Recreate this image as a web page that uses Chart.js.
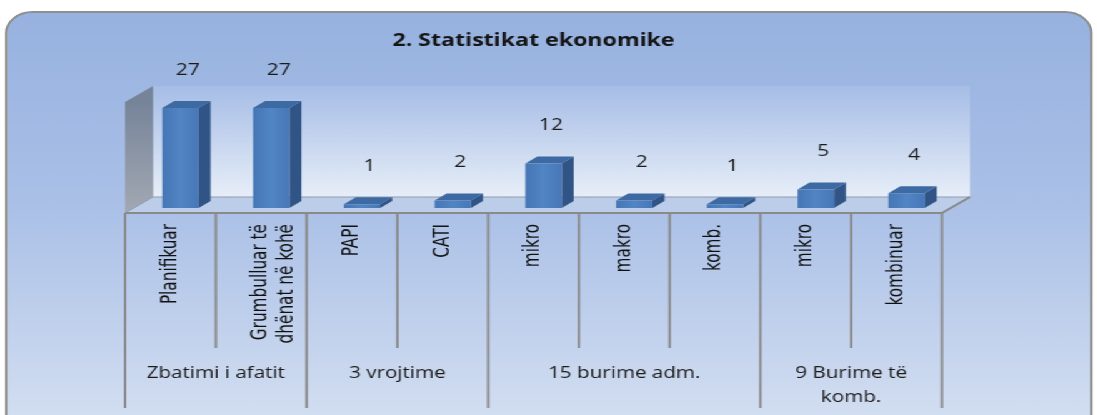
<!DOCTYPE html>
<html>
<head>
<meta charset="utf-8">
<script src="https://cdn.jsdelivr.net/npm/chart.js@4/dist/chart.umd.min.js"></script>
<style>
  html, body { margin: 0; padding: 0; background: #fff; overflow: hidden; }
  #wrap {
    position: absolute; left: 0; top: 0; width: 878px; height: 415px;
    transform: scale(1.25, 1); transform-origin: 0 0;
  }
  #frame {
    position: absolute; left: 4px; top: 11px; width: 870px; height: 430px;
    box-sizing: border-box; border: 2px solid #8f8f8f; border-radius: 22px;
    background: linear-gradient(to bottom, #97b2e0 0%, #aac0e7 45%, #d6e1f2 100%);
  }
  #box { position: absolute; left: 0; top: 0; width: 878px; height: 415px; }
</style>
</head>
<body>
<div id="wrap">
  <div id="frame"></div>
  <div id="box"><canvas id="grafik"></canvas></div>
</div>
<script>
const kategorite = ['Planifikuar', ['Grumbulluar të', 'dhënat në kohë'], 'PAPI', 'CATI', 'mikro', 'makro', 'komb.', 'mikro', 'kombinuar'];
const vlerat = [27, 27, 1, 2, 12, 2, 1, 5, 4];
const grupet = ['Zbatimi i afatit', '3 vrojtime', '15 burime adm.', ['9 Burime të', 'komb.']];
const grupMadhesia = [2, 2, 3, 2];

// pseudo 3D offsets (in canvas px)
const thellesia = { x: 22.4, y: -16 };
const futja = { x: 8, y: -5 };
const thellesiaBar = { x: 9.6, y: -7 };

function poly(ctx, pts, fill, stroke) {
  ctx.beginPath();
  ctx.moveTo(pts[0][0], pts[0][1]);
  for (let i = 1; i < pts.length; i++) ctx.lineTo(pts[i][0], pts[i][1]);
  ctx.closePath();
  ctx.fillStyle = fill;
  ctx.fill();
  if (stroke) { ctx.strokeStyle = stroke; ctx.lineWidth = 1; ctx.stroke(); }
}

const muret = {
  id: 'muret',
  beforeDatasetsDraw(chart) {
    const { ctx, chartArea: a } = chart;
    const dx = thellesia.x, dy = thellesia.y;
    ctx.save();
    // back wall
    let g = ctx.createLinearGradient(0, a.top + dy, 0, a.bottom + dy);
    g.addColorStop(0, '#a6bde6');
    g.addColorStop(1, '#e7eef8');
    ctx.fillStyle = g;
    ctx.fillRect(a.left + dx, a.top + dy, a.right - a.left, a.bottom - a.top);
    // left wall
    g = ctx.createLinearGradient(0, a.top, 0, a.bottom);
    g.addColorStop(0, '#76849a');
    g.addColorStop(1, '#a3a9b3');
    poly(ctx, [[a.left, a.bottom], [a.left, a.top], [a.left + dx, a.top + dy], [a.left + dx, a.bottom + dy]], g);
    // floor
    poly(ctx, [[a.left, a.bottom], [a.right, a.bottom], [a.right + dx, a.bottom + dy], [a.left + dx, a.bottom + dy]], '#bccde9', '#8f9bb0');
    ctx.restore();
  },
  afterDatasetsDraw(chart) {
    const { ctx } = chart;
    const meta = chart.getDatasetMeta(0);
    ctx.save();
    meta.data.forEach((bar, i) => {
      const p = bar.getProps(['x', 'y', 'base', 'width'], true);
      const x0 = p.x - p.width / 2 + futja.x;
      const x1 = p.x + p.width / 2 + futja.x;
      const yt = p.y + futja.y;
      const yb = p.base + futja.y;
      const bx = thellesiaBar.x, by = thellesiaBar.y;
      // side
      poly(ctx, [[x1, yb], [x1, yt], [x1 + bx, yt + by], [x1 + bx, yb + by]], '#2f5485');
      // top
      poly(ctx, [[x0, yt], [x1, yt], [x1 + bx, yt + by], [x0 + bx, yt + by]], '#3d6aa3');
      // front
      const g = ctx.createLinearGradient(x0, 0, x1, 0);
      g.addColorStop(0, '#4576b5');
      g.addColorStop(0.5, '#5285c4');
      g.addColorStop(1, '#4777b6');
      poly(ctx, [[x0, yb], [x0, yt], [x1, yt], [x1, yb]], g);
      // value label
      ctx.fillStyle = '#1b1b1b';
      ctx.font = '17px "Open Sans", sans-serif';
      ctx.textAlign = 'center';
      ctx.textBaseline = 'middle';
      ctx.fillText(String(vlerat[i]), p.x + futja.x + 6, yt - 38);
    });
    ctx.restore();
  },
  afterDraw(chart) {
    const { ctx, chartArea: a } = chart;
    const sx = chart.scales.x;
    const hap = (sx.getPixelForValue(1) - sx.getPixelForValue(0)) / 2;
    const kufiri = (i) => sx.getPixelForValue(i) - hap;
    const grupKufij = [0];
    grupMadhesia.forEach(n => grupKufij.push(grupKufij[grupKufij.length - 1] + n));
    ctx.save();
    ctx.strokeStyle = '#8a8a8a';
    ctx.lineWidth = 2;
    ctx.beginPath();
    ctx.moveTo(a.left, a.bottom);
    ctx.lineTo(a.right, a.bottom);
    ctx.lineTo(a.right + thellesia.x, a.bottom + thellesia.y);
    ctx.stroke();
    for (let i = 0; i <= kategorite.length; i++) {
      const x = kufiri(i);
      const gjate = grupKufij.includes(i);
      ctx.beginPath();
      ctx.moveTo(x, a.bottom);
      ctx.lineTo(x, gjate ? 408 : 348);
      ctx.stroke();
    }
    ctx.fillStyle = '#1b1b1b';
    ctx.font = '16.5px "Open Sans", sans-serif';
    ctx.textAlign = 'center';
    ctx.textBaseline = 'middle';
    grupet.forEach((t, j) => {
      const cx = (kufiri(grupKufij[j]) + kufiri(grupKufij[j + 1])) / 2;
      const rreshta = Array.isArray(t) ? t : [t];
      rreshta.forEach((r, k) => ctx.fillText(r, cx, 373 + k * 24));
    });
    ctx.restore();
  }
};

new Chart(document.getElementById('grafik'), {
  type: 'bar',
  data: {
    labels: kategorite,
    datasets: [{
      data: vlerat,
      backgroundColor: 'rgba(0,0,0,0)',
      barPercentage: 0.4,
      categoryPercentage: 1
    }]
  },
  options: {
    responsive: true,
    maintainAspectRatio: false,
    animation: false,
    layout: { padding: { left: 100, right: 124.4, top: 0, bottom: 0 } },
    plugins: {
      legend: { display: false },
      tooltip: { enabled: false },
      title: {
        display: true,
        text: '2. Statistikat ekonomike',
        color: '#151515',
        font: { family: '"Open Sans", sans-serif', size: 18.5, weight: 'bold' },
        padding: { top: 30, bottom: 49.8 }
      }
    },
    scales: {
      x: {
        grid: { display: false, drawTicks: false },
        border: { display: false },
        ticks: {
          color: '#111',
          font: { family: '"DejaVu Sans Condensed", sans-serif', size: 17 },
          minRotation: 90,
          maxRotation: 90,
          autoSkip: false,
          padding: 11
        },
        afterFit(scale) { scale.height = 202; }
      },
      y: {
        display: false,
        min: 0,
        max: 30
      }
    }
  },
  plugins: [muret]
});
</script>
</body>
</html>
